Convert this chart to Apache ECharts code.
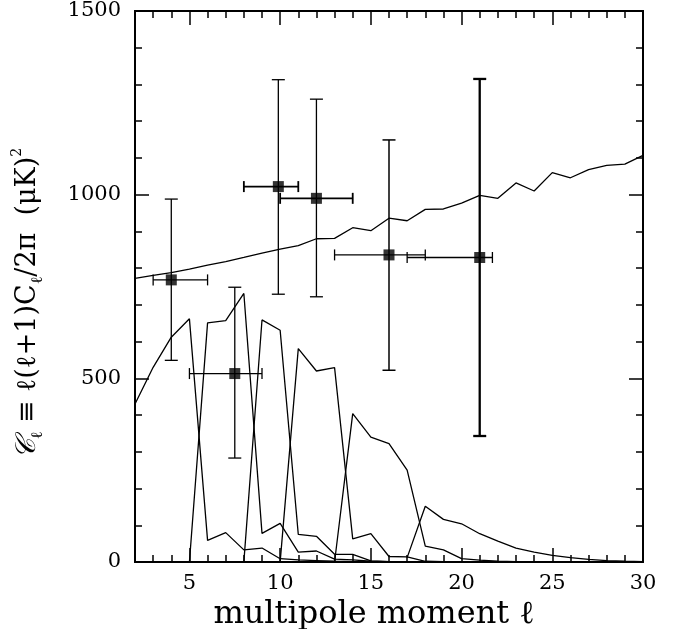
<!DOCTYPE html>
<html>
<head>
<meta charset="utf-8">
<script src="https://cdn.jsdelivr.net/npm/echarts@6/dist/echarts.min.js"></script>
<style>
html,body{margin:0;padding:0;background:#fff;}
#chart{width:688px;height:629px;}
</style>
</head>
<body>
<div id="chart"></div>
<script>
// multipole moments
const ell = [2,3,4,5,6,7,8,9,10,11,12,13,14,15,16,17,18,19,20,21,22,23,24,25,26,27,28,29,30];
// theoretical power spectrum
const model = [772,780,788,797,808,818,829,841,852,861,880,881,910,902,936,929,960,961,977,998,990,1032,1010,1060,1046,1068,1080,1083,1107];
// window functions (null = not defined)
const win1 = [430,530,612,662,59,80,33,38,9,6,4,2,1,0,0,0,0,0,0,0,0,0,0,0,0,0,0,0,0];
const win2 = [null,null,null,0,651,657,731,78,105,27,30,8,6,2,1,0,0,0,0,0,0,0,0,0,0,0,0,0,0];
const win3 = [null,null,null,null,null,null,0,659,631,75,70,21,21,3,1,0,0,0,0,0,0,0,0,0,0,0,0,0,0];
const win4 = [null,null,null,null,null,null,null,null,0,581,520,529,63,77,15,14,2,1,0,0,0,0,0,0,0,0,0,0,0];
const win5 = [null,null,null,null,null,null,null,null,null,null,null,0,404,340,322,250,43,33,9,5,2,1,0,0,0,0,0,0,0];
const win6 = [null,null,null,null,null,null,null,null,null,null,null,null,null,null,null,12,152,116,104,77,57,38,27,18,12,7,4,2,1];
// band-power measurements
const ptX   = [4, 7.5, 9.9, 12, 16, 21];
const ptY   = [768, 513, 1022, 990, 836, 829];
const ptXlo = [3, 5, 8, 10, 13, 17];
const ptXhi = [6, 9, 11, 14, 18, 21.7];
const ptYlo = [549, 283, 729, 722, 522, 343];
const ptYhi = [988, 748, 1313, 1260, 1149, 1315];
// tick labels
const xMajor = [5,10,15,20,25,30];
const xMinor = [3,4,6,7,8,9,11,12,13,14,16,17,18,19,21,22,23,24,26,27,28,29];

// styles (separate from data)
const vBarWidth = [1.3,1.3,1.3,1.3,1.5,2.3];
const hBarWidth = [1.3,1.3,1.8,1.8,1.3,1.3];

const FONT = 'DejaVu Serif';
const chart = echarts.init(document.getElementById('chart'), null, {renderer:'canvas'});

function pairs(vals){ return ell.map((x,i)=>[x, vals[i]]); }
function lineSeries(vals){
  return {type:'line', data:pairs(vals), showSymbol:false, symbol:'none', connectNulls:false,
    lineStyle:{color:'#000', width:1.3}, xAxisIndex:0, yAxisIndex:0, silent:true, animation:false, z:3};
}
const plain = v => String(v);

const frameLine = {show:true, lineStyle:{color:'#000', width:2}};
function xAx(pos, vals, len, withLabel){
  return {type:'value', min:2, max:30, position:pos, gridIndex:0,
    axisLine: frameLine,
    axisTick:{show:true, inside:true, length:len, customValues: vals, lineStyle:{color:'#000', width:1.5}},
    axisLabel:{show:withLabel, customValues: vals, formatter: plain, color:'#000', fontFamily:FONT, fontSize:21, margin:11},
    splitLine:{show:false}};
}
const yCommon = (pos, withLabel) => ({type:'value', min:0, max:1500, interval:500, position:pos,
  axisLine: frameLine,
  axisTick:{show:true, inside:true, length:14, lineStyle:{color:'#000', width:1.5}},
  minorTick:{show:true, splitNumber:5, length:7, lineStyle:{color:'#000', width:1.5}},
  axisLabel:{show:withLabel, formatter: plain, color:'#000', fontFamily:FONT, fontSize:21, margin:14},
  splitLine:{show:false}, minorSplitLine:{show:false}});

const xMain = xAx('bottom', xMajor, 14, true);
xMain.name = 'multipole moment ℓ{gap| }';
xMain.nameLocation = 'middle';
xMain.nameGap = 22;
xMain.nameTextStyle = {color:'#000', fontFamily:FONT, fontSize:32,
  rich:{gap:{width:30, fontSize:32}}};

const yMain = yCommon('left', true);
yMain.name = '{s|𝒞}{sub|ℓ} ≡ ℓ(ℓ+1)C{sub|ℓ}/2π  (μK){sup|2}{gap| }';
yMain.nameLocation = 'middle';
yMain.nameRotate = 90;
yMain.nameGap = 89;
yMain.nameTextStyle = {color:'#000', fontFamily:FONT, fontSize:27,
  rich:{
    s:{fontFamily:FONT, fontSize:28, fontStyle:'italic', color:'#000'},
    sub:{fontFamily:FONT, fontSize:16, color:'#000', verticalAlign:'bottom', lineHeight:36},
    sup:{fontFamily:FONT, fontSize:14, color:'#000', verticalAlign:'top', lineHeight:36},
    gap:{width:34, fontSize:27}
  }};

const option = {
  animation:false,
  backgroundColor:'#fff',
  grid:{left:135, right:45, top:11, bottom:67, containLabel:false, outerBoundsMode:'none'},
  xAxis:[ xMain, xAx('bottom', xMinor, 7, false), xAx('top', xMajor, 14, false), xAx('top', xMinor, 7, false) ],
  yAxis:[ yMain, yCommon('right', false) ],
  series:[
    lineSeries(model), lineSeries(win1), lineSeries(win2), lineSeries(win3),
    lineSeries(win4), lineSeries(win5), lineSeries(win6),
    {type:'custom', xAxisIndex:0, yAxisIndex:0, z:4, silent:true,
     data: ptX.map((x,i)=>[x, ptY[i], ptXlo[i], ptXhi[i], ptYlo[i], ptYhi[i]]),
     renderItem:function(params, api){
       const i = params.dataIndex;
       const c = api.coord([api.value(0), api.value(1)]);
       const l = api.coord([api.value(2), api.value(1)]);
       const r = api.coord([api.value(3), api.value(1)]);
       const b = api.coord([api.value(0), api.value(4)]);
       const t = api.coord([api.value(0), api.value(5)]);
       const vs = {stroke:'#000', lineWidth:vBarWidth[i], fill:null};
       const hs = {stroke:'#000', lineWidth:hBarWidth[i], fill:null};
       const cw = 6.5, ch = 5.5;
       return {type:'group', children:[
         {type:'line', shape:{x1:c[0], y1:b[1], x2:c[0], y2:t[1]}, style:vs},
         {type:'line', shape:{x1:c[0]-cw, y1:t[1], x2:c[0]+cw, y2:t[1]}, style:vs},
         {type:'line', shape:{x1:c[0]-cw, y1:b[1], x2:c[0]+cw, y2:b[1]}, style:vs},
         {type:'line', shape:{x1:l[0], y1:c[1], x2:r[0], y2:c[1]}, style:hs},
         {type:'line', shape:{x1:l[0], y1:c[1]-ch, x2:l[0], y2:c[1]+ch}, style:hs},
         {type:'line', shape:{x1:r[0], y1:c[1]-ch, x2:r[0], y2:c[1]+ch}, style:hs}
       ]};
     }},
    {type:'scatter', xAxisIndex:0, yAxisIndex:0, z:5, silent:true,
     symbol:'rect', symbolSize:11, itemStyle:{color:'#000'},
     data: ptX.map((x,i)=>[x, ptY[i]])}
  ]
};
chart.setOption(option);
</script>
</body>
</html>
